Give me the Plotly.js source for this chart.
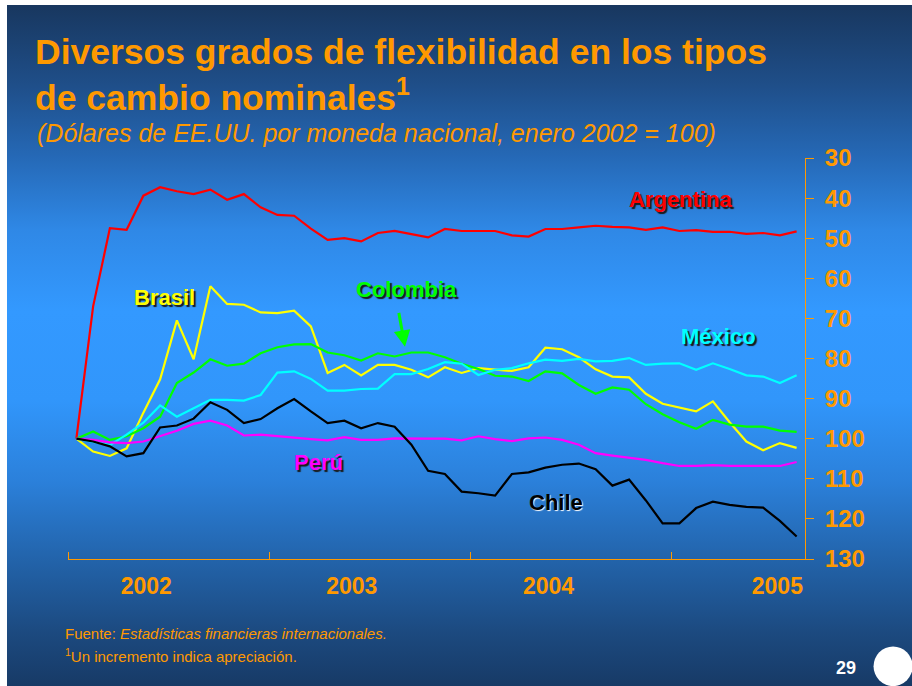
<!DOCTYPE html>
<html>
<head>
<meta charset="utf-8">
<script src="https://cdn.plot.ly/plotly-3.0.1.min.js"></script>
<style>
html,body{margin:0;padding:0;background:#ffffff;width:912px;height:686px;overflow:hidden}
#bg{position:absolute;left:7px;top:5px;width:905px;height:681px;
background:linear-gradient(to bottom,#18375f 0%,#1f4f8a 12%,#2568b5 22%,#2f88e6 33%,#3399ff 45%,#3196fb 58%,#2b80da 70%,#2262a8 82%,#1c4a80 92%,#173a66 100%)}
#chart{position:absolute;left:0;top:0;width:912px;height:686px}
</style>
</head>
<body>
<div id="bg"></div>
<div id="chart"></div>
<script>
const months = ['2002-01','2002-02','2002-03','2002-04','2002-05','2002-06','2002-07','2002-08','2002-09','2002-10','2002-11','2002-12',
'2003-01','2003-02','2003-03','2003-04','2003-05','2003-06','2003-07','2003-08','2003-09','2003-10','2003-11','2003-12',
'2004-01','2004-02','2004-03','2004-04','2004-05','2004-06','2004-07','2004-08','2004-09','2004-10','2004-11','2004-12',
'2005-01','2005-02','2005-03','2005-04','2005-05','2005-06','2005-07','2005-08'];
const years = ['2002','2003','2004','2005'];
const yTicks = [30,40,50,60,70,80,90,100,110,120,130];

const argentina = [100,67,47.5,47.9,39.4,37.3,38.3,39.0,37.9,40.4,39.0,42.3,44.2,44.4,47.6,50.4,50.0,50.8,48.7,48.2,49.0,49.8,47.7,48.2,48.2,48.2,49.3,49.6,47.7,47.7,47.3,46.9,47.2,47.3,47.9,47.3,48.2,48.0,48.4,48.4,48.9,48.7,49.3,48.3];
const brasil = [100,103.2,104.3,102.4,93.5,85.2,70.5,80.2,62.0,66.4,66.6,68.5,68.7,68.1,72.0,83.6,81.6,84.2,81.6,81.6,82.8,84.7,82.2,83.6,82.4,82.8,83.1,82.2,77.3,77.7,79.7,82.7,84.5,84.7,88.8,91.3,92.2,93.2,90.7,95.9,100.7,102.9,101.1,102.3];
const colombia = [100,98.2,100.3,99.4,97.4,94.5,86.1,83.5,80.2,81.8,81.3,78.7,77.2,76.5,76.4,78.5,79.2,80.5,78.7,79.5,78.5,78.5,79.7,81.3,82.6,84.3,84.5,85.6,83.2,83.7,86.6,88.8,87.2,87.8,91.4,93.9,95.9,97.5,95.3,96.5,97.0,97.0,98.0,98.3];
const mexico = [100,100.8,101.6,99.0,96.0,91.7,94.5,92.4,90.3,90.3,90.5,89.1,83.5,83.2,85.1,88.0,88.0,87.6,87.5,83.9,83.9,82.6,80.9,81.3,84.1,82.8,82.4,81.2,80.3,80.6,80.1,80.7,80.6,79.9,81.6,81.3,81.2,82.8,81.2,82.6,84.2,84.5,86.1,84.2];
const chile = [100,100.7,101.9,104.4,103.6,97.2,96.7,95.0,90.9,92.8,96.1,95.1,92.4,90.1,93.2,96.1,95.5,97.4,96.1,97.0,101.5,108.0,108.8,113.2,113.6,114.2,108.8,108.4,107.2,106.5,106.2,107.6,111.7,110.2,115.4,121.1,121.1,117.3,115.7,116.5,117.0,117.2,120.5,124.4];
const peru = [100,100.3,100.9,101.1,100.7,99.4,98.0,96.3,95.5,96.7,99.2,99.0,99.4,99.7,100.1,100.4,99.6,100.3,100.3,99.9,100.0,100.0,100.0,100.4,99.4,100.1,100.6,99.9,99.7,100.3,101.5,103.6,104.2,104.7,105.3,106.1,106.8,106.8,106.6,106.8,106.8,106.8,106.8,105.8];

const countries = ['Argentina','Brasil','Colombia','México','Perú','Chile'];
const seriesList = [argentina, brasil, colombia, mexico, peru, chile];
const colors = ['#ff0000','#ffff00','#00ff00','#00ffff','#ff00ff','#000000'];

const xIdx = months.map((m, i) => i);
const FONT = "Arial, 'Liberation Sans', sans-serif";
const ORANGE = '#ff9900';

const traces = seriesList.map((s, k) => ({
  type: 'scatter', mode: 'lines', x: xIdx, y: s, name: countries[k],
  line: {color: colors[k], width: 2.2}, hoverinfo: 'skip'
}));

// year boundaries (between December and January) and year label positions
const yearBounds = years.map((y, i) => months.indexOf(y + '-01') - 0.5);
const yearLabelPos = [4.17, 16.44, 28.19, 41.85];

const labelPos = {
  'Argentina': [36.04, 40.4], 'Brasil': [5.29, 64.9], 'Colombia': [19.68, 62.9],
  'México': [38.36, 74.6], 'Perú': [14.48, 106.0], 'Chile': [28.63, 116.0]
};
const annotations = countries.map((c, k) => ({
  x: labelPos[c][0], y: labelPos[c][1], xref: 'x', yref: 'y', text: c, showarrow: false,
  font: {family: FONT, size: 22, color: colors[k], weight: 'bold',
         shadow: c === 'Chile' ? '1px 1px 1px #ffffff' : '2px 2px 1px #1a1a1a'}
}));
// Colombia arrow
annotations.push({x: 19.62, y: 77.1, xref: 'x', yref: 'y', text: ' ', showarrow: true,
  ax: -8, ay: -44, arrowcolor: '#00ff00', arrowwidth: 3, arrowhead: 2, arrowsize: 1.1});
// subtitle
annotations.push({xref: 'paper', yref: 'paper', x: -0.0448, y: 1.062, xanchor: 'left', yanchor: 'middle',
  showarrow: false, text: '(Dólares de EE.UU. por moneda nacional, enero 2002 = 100)',
  font: {family: FONT, size: 25, color: ORANGE, style: 'italic'}});
// footnotes
annotations.push({xref: 'paper', yref: 'paper', x: -0.007, y: -0.187, xanchor: 'left', yanchor: 'middle',
  showarrow: false, text: 'Fuente: <i>Estadísticas financieras internacionales.</i>',
  font: {family: FONT, size: 15, color: ORANGE}});
annotations.push({xref: 'paper', yref: 'paper', x: -0.007, y: -0.241, xanchor: 'left', yanchor: 'middle',
  showarrow: false, text: '<sup>1</sup>Un incremento indica apreciación.',
  font: {family: FONT, size: 15, color: ORANGE}});
// page number
annotations.push({xref: 'paper', yref: 'paper', x: 1.0556, y: -0.272, xanchor: 'center', yanchor: 'middle',
  showarrow: false, text: '29', font: {family: FONT, size: 18, color: '#ffffff', weight: 'bold'}});

const layout = {
  width: 912, height: 686,
  paper_bgcolor: 'rgba(0,0,0,0)', plot_bgcolor: 'rgba(0,0,0,0)',
  margin: {l: 68, r: 107, t: 158, b: 127},
  showlegend: false, hovermode: false,
  title: {
    text: 'Diversos grados de flexibilidad en los tipos<br>de cambio nominales<sup>1</sup>',
    font: {family: FONT, size: 35.5, color: ORANGE, weight: 'bold'},
    xref: 'container', yref: 'container', x: 35/912, xanchor: 'left', y: 1 - 64/686, yanchor: 'top'
  },
  xaxis: {
    range: [-0.5, 43.5], showgrid: false, zeroline: false,
    showline: true, linecolor: ORANGE, linewidth: 1,
    tickmode: 'array', tickvals: yearLabelPos, ticktext: years, ticks: '',
    ticklabelstandoff: 6,
    tickfont: {family: FONT, size: 23, color: ORANGE, weight: 'bold'},
    minor: {tickmode: 'array', tickvals: yearBounds, ticks: 'inside', ticklen: 7, tickcolor: ORANGE, tickwidth: 1, showgrid: false}
  },
  yaxis: {
    range: [130, 30], side: 'right', showgrid: false, zeroline: false,
    showline: true, linecolor: ORANGE, linewidth: 1,
    tickmode: 'array', tickvals: yTicks, ticks: 'outside', ticklen: 8, tickcolor: ORANGE,
    ticklabelstandoff: 6,
    tickfont: {family: FONT, size: 24, color: ORANGE, weight: 'bold'}
  },
  annotations: annotations,
  shapes: [{type: 'circle', xref: 'paper', yref: 'paper', x0: 1.093, x1: 1.146, y0: -0.317, y1: -0.218,
    fillcolor: '#ffffff', line: {color: '#ffffff', width: 0}}]
};

Plotly.newPlot('chart', traces, layout, {displayModeBar: false, staticPlot: true});
</script>
</body>
</html>
